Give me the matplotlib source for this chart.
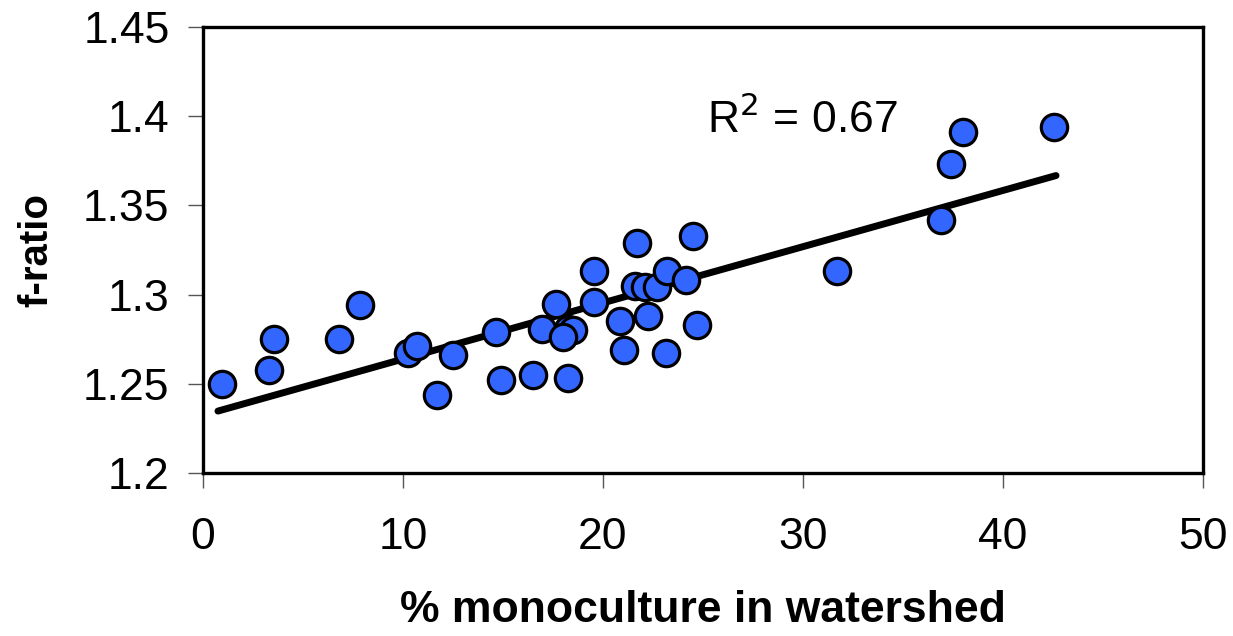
import numpy as np
import matplotlib
matplotlib.use("Agg")
import matplotlib.pyplot as plt

plt.rcParams['font.family'] = ['Liberation Sans', 'DejaVu Sans']

# % monoculture in each watershed and the corresponding f-ratio
monoculture = [0.95, 3.3, 3.55, 6.8, 7.85, 10.25, 10.7, 12.5, 11.7, 14.65,
               14.9, 16.5, 16.95, 17.65, 18.25, 18.25, 18.5, 18.0, 19.55, 19.55,
               20.85, 21.05, 21.7, 21.6, 22.1, 22.25, 22.7, 23.15, 23.2, 24.15,
               24.5, 24.7, 31.7, 36.9, 37.4, 38.0, 42.55]
f_ratio = [1.250, 1.258, 1.275, 1.275, 1.294, 1.267, 1.271, 1.266, 1.244, 1.279,
           1.252, 1.255, 1.281, 1.295, 1.253, 1.281, 1.280, 1.276, 1.296, 1.313,
           1.285, 1.269, 1.329, 1.305, 1.304, 1.288, 1.304, 1.267, 1.313, 1.308,
           1.333, 1.283, 1.313, 1.342, 1.373, 1.391, 1.394]

r2_label = "0.67"
x_ticks = [0, 10, 20, 30, 40, 50]
y_ticks = [1.2, 1.25, 1.3, 1.35, 1.4, 1.45]
y_tick_labels = ["1.2", "1.25", "1.3", "1.35", "1.4", "1.45"]

x = np.array(monoculture)
y = np.array(f_ratio)

fig = plt.figure(figsize=(12.33, 6.36), dpi=100)
ax = fig.add_axes([0.1646, 0.2563, 0.8111, 0.7012])

# least-squares trend line
slope, intercept = np.polyfit(x, y, 1)
xl = np.array([x.min() - 0.2, x.max() + 0.1])
ax.plot(xl, intercept + slope * xl, color='black', lw=5.0,
        solid_capstyle='round', zorder=2)

ax.scatter(x, y, s=360, facecolor='#3366FF', edgecolor='black',
           linewidths=2.3, zorder=3)

ax.set_xlim(0, 50)
ax.set_ylim(1.2, 1.45)
ax.set_xticks(x_ticks)
ax.set_xticklabels([str(t) for t in x_ticks])
ax.set_yticks(y_ticks)
ax.set_yticklabels(y_tick_labels)

for s in ax.spines.values():
    s.set_linewidth(2.4)
    s.set_color('black')

ax.tick_params(axis='both', direction='out', length=11, width=1.0,
               color='#555555', labelsize=32)
ax.tick_params(axis='y', pad=13)
ax.tick_params(axis='x', pad=21)

ax.set_xlabel('% monoculture in watershed', fontsize=32, fontweight='bold',
              labelpad=23)
ax.set_ylabel('f-ratio', fontsize=29, fontweight='bold', labelpad=20)

ax.text(25.2, 1.3905, r'R$^{2}$ = ' + r2_label, fontsize=32, ha='left',
        va='baseline')

fig.savefig('out.png', dpi=100)
